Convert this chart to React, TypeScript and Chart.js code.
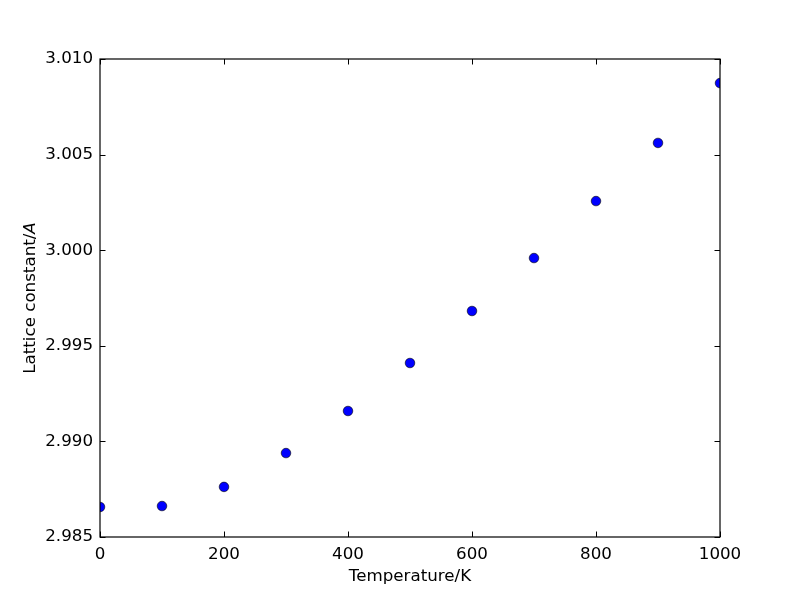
import React, { useEffect, useRef } from "react";
import { Chart, registerables } from "chart.js";

Chart.register(...registerables);

const temperatures = [0, 100, 200, 300, 400, 500, 600, 700, 800, 900, 1000];
const latticeConstants = [2.98657, 2.98662, 2.98762, 2.98939, 2.99159, 2.9941, 2.99682, 2.99959, 3.00257, 3.00561, 3.00874];
const xTicks = [0, 200, 400, 600, 800, 1000];
const yTicks = [2.985, 2.99, 2.995, 3.0, 3.005, 3.01];
const xTitle = "Temperature/K";
const yTitleMain = "Lattice constant/";
const yTitleItalic = "A";

const FONT = "DejaVu Sans";
const FS = 16.7;

const framePlugin = {
  id: "frame",
  afterDraw(chart: any) {
    const { ctx, chartArea } = chart;
    const { left, right, top, bottom } = chartArea;
    const xs = chart.scales.x;
    const ys = chart.scales.y;
    const tl = 5.5;
    ctx.save();
    ctx.strokeStyle = "#000";
    ctx.lineWidth = 1;
    ctx.beginPath();
    xTicks.forEach((v) => {
      const px = Math.round(xs.getPixelForValue(v)) + 0.5;
      ctx.moveTo(px, bottom);
      ctx.lineTo(px, bottom - tl);
      ctx.moveTo(px, top);
      ctx.lineTo(px, top + tl);
    });
    yTicks.forEach((v) => {
      const py = Math.round(ys.getPixelForValue(v)) + 0.5;
      ctx.moveTo(left, py);
      ctx.lineTo(left + tl, py);
      ctx.moveTo(right, py);
      ctx.lineTo(right - tl, py);
    });
    ctx.stroke();
    ctx.lineWidth = 1.2;
    ctx.strokeRect(left, top, right - left, bottom - top);

    // y title with italic part
    ctx.fillStyle = "#000";
    ctx.textBaseline = "middle";
    ctx.textAlign = "left";
    const normalFont = `${FS}px "${FONT}"`;
    const italicFont = `italic ${FS}px "${FONT}"`;
    ctx.font = normalFont;
    const w1 = ctx.measureText(yTitleMain).width;
    ctx.font = italicFont;
    const w2 = ctx.measureText(yTitleItalic).width;
    const total = w1 + w2;
    ctx.translate(31, (top + bottom) / 2);
    ctx.rotate(-Math.PI / 2);
    ctx.font = normalFont;
    ctx.fillText(yTitleMain, -total / 2, 0);
    ctx.font = italicFont;
    ctx.fillText(yTitleItalic, -total / 2 + w1, 0);
    ctx.restore();
  },
};

export default function App() {
  const ref = useRef<HTMLCanvasElement>(null);
  useEffect(() => {
    document.body.style.margin = "0";
    const chart = new Chart(ref.current!, {
      type: "scatter",
      data: {
        datasets: [
          {
            data: temperatures.map((t, i) => ({ x: t, y: latticeConstants[i] })),
            backgroundColor: "#0000ff",
            borderColor: "#000000",
            borderWidth: 0.6,
            pointRadius: 4.8,
            pointHoverRadius: 4.8,
          },
        ],
      },
      options: {
        animation: false,
        responsive: false,
        devicePixelRatio: 1,
        layout: { padding: { left: 0, right: 80, top: 59, bottom: 0 } },
        plugins: { legend: { display: false }, tooltip: { enabled: false } },
        scales: {
          x: {
            type: "linear",
            min: 0,
            max: 1000,
            afterFit: (s: any) => {
              s.height = 60;
            },
            afterBuildTicks: (s: any) => {
              s.ticks = xTicks.map((v) => ({ value: v }));
            },
            grid: { display: false, drawTicks: false },
            border: { display: false },
            ticks: {
              padding: 8,
              color: "#000",
              font: { family: FONT, size: FS },
              maxRotation: 0,
              callback: (v: any) => String(v),
            },
            title: {
              display: true,
              text: xTitle,
              color: "#000",
              font: { family: FONT, size: FS },
              padding: { top: 4, bottom: 10 },
            },
          },
          y: {
            type: "linear",
            min: 2.985,
            max: 3.01,
            afterFit: (s: any) => {
              s.width = 100;
            },
            afterBuildTicks: (s: any) => {
              s.ticks = yTicks.map((v) => ({ value: v }));
            },
            grid: { display: false, drawTicks: false },
            border: { display: false },
            ticks: {
              padding: 7,
              color: "#000",
              font: { family: FONT, size: FS },
              callback: (v: any) => Number(v).toFixed(3),
            },
          },
        },
      },
      plugins: [framePlugin],
    });
    return () => chart.destroy();
  }, []);
  return (
    <div style={{ position: "absolute", left: 0, top: 0, width: 800, height: 597, background: "#fff" }}>
      <canvas ref={ref} width={800} height={597} style={{ width: 800, height: 597 }} />
    </div>
  );
}
